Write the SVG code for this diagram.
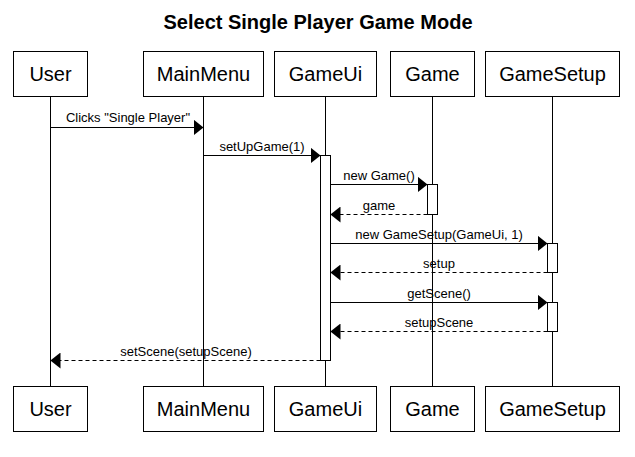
<svg xmlns="http://www.w3.org/2000/svg" width="635" height="457" viewBox="0 0 635 457">
<style>
  .box { fill: #fff; stroke: #000; stroke-width: 1; }
  .life { stroke: #000; stroke-width: 1; }
  .act { fill: #fff; stroke: #000; stroke-width: 1; }
  .msg { stroke: #000; stroke-width: 1; fill: none; marker-end: url(#arr); }
  .ret { stroke-dasharray: 4,3; }
  .name { font-family: "Liberation Sans", Arial, sans-serif; font-size: 20px; text-anchor: middle; fill: #000; }
  .lbl { font-family: "Liberation Sans", Arial, sans-serif; font-size: 13px; text-anchor: middle; fill: #000; }
  .title { font-family: "Liberation Sans", Arial, sans-serif; font-size: 20px; font-weight: bold; text-anchor: middle; fill: #000; }
</style>
<defs>
  <marker id="arr" markerUnits="userSpaceOnUse" viewBox="0 0 10 16" refX="10" refY="8" markerWidth="10" markerHeight="16" orient="auto">
    <path d="M0,0 L10,8 L0,16 Z" fill="#000"/>
  </marker>
</defs>
<rect width="635" height="457" fill="#fff"/>
<text class="title" x="318" y="29">Select Single Player Game Mode</text>

<g id="lifelines">
  <line class="life" x1="50.5" y1="96.5" x2="50.5" y2="386.5"/>
  <line class="life" x1="203.5" y1="96.5" x2="203.5" y2="386.5"/>
  <line class="life" x1="325.5" y1="96.5" x2="325.5" y2="386.5"/>
  <line class="life" x1="432.5" y1="96.5" x2="432.5" y2="386.5"/>
  <line class="life" x1="552.5" y1="96.5" x2="552.5" y2="386.5"/>
</g>

<g id="User">
  <rect class="box" x="13.5" y="51.5" width="74" height="45"/>
  <text class="name" x="50.5" y="81">User</text>
  <rect class="box" x="13.5" y="386.5" width="74" height="45"/>
  <text class="name" x="50.5" y="416">User</text>
</g>
<g id="MainMenu">
  <rect class="box" x="143.5" y="51.5" width="120" height="45"/>
  <text class="name" x="203.5" y="81">MainMenu</text>
  <rect class="box" x="143.5" y="386.5" width="120" height="45"/>
  <text class="name" x="203.5" y="416">MainMenu</text>
</g>
<g id="GameUi">
  <rect class="box" x="274.5" y="51.5" width="102" height="45"/>
  <text class="name" x="325.5" y="81">GameUi</text>
  <rect class="box" x="274.5" y="386.5" width="102" height="45"/>
  <text class="name" x="325.5" y="416">GameUi</text>
  <rect class="act" x="320.5" y="155.5" width="10" height="205"/>
</g>
<g id="Game">
  <rect class="box" x="390.5" y="51.5" width="84" height="45"/>
  <text class="name" x="432.5" y="81">Game</text>
  <rect class="box" x="390.5" y="386.5" width="84" height="45"/>
  <text class="name" x="432.5" y="416">Game</text>
  <rect class="act" x="427.5" y="184.5" width="10" height="30"/>
</g>
<g id="GameSetup">
  <rect class="box" x="485.5" y="51.5" width="134" height="45"/>
  <text class="name" x="552.5" y="81">GameSetup</text>
  <rect class="box" x="485.5" y="386.5" width="134" height="45"/>
  <text class="name" x="552.5" y="416">GameSetup</text>
  <rect class="act" x="547.5" y="243.5" width="10" height="29"/>
  <rect class="act" x="547.5" y="302.5" width="10" height="29"/>
</g>

<g id="connectors">
  <line class="msg" x1="50.5" y1="127.5" x2="203.5" y2="127.5"/>
  <text class="lbl" x="128" y="122">Clicks "Single Player"</text>

  <line class="msg" x1="203.5" y1="155.5" x2="320.5" y2="155.5"/>
  <text class="lbl" x="262" y="151">setUpGame(1)</text>

  <line class="msg" x1="330.5" y1="184.5" x2="427.5" y2="184.5"/>
  <text class="lbl" x="379" y="180">new Game()</text>

  <line class="msg ret" x1="427.5" y1="214.5" x2="330.5" y2="214.5"/>
  <text class="lbl" x="379" y="210">game</text>

  <line class="msg" x1="330.5" y1="243.5" x2="547.5" y2="243.5"/>
  <text class="lbl" x="439" y="239">new GameSetup(GameUi, 1)</text>

  <line class="msg ret" x1="547.5" y1="272.5" x2="330.5" y2="272.5"/>
  <text class="lbl" x="439" y="268">setup</text>

  <line class="msg" x1="330.5" y1="302.5" x2="547.5" y2="302.5"/>
  <text class="lbl" x="439" y="298">getScene()</text>

  <line class="msg ret" x1="547.5" y1="331.5" x2="330.5" y2="331.5"/>
  <text class="lbl" x="439" y="327">setupScene</text>

  <line class="msg ret" x1="320.5" y1="360.5" x2="50.5" y2="360.5"/>
  <text class="lbl" x="186" y="356">setScene(setupScene)</text>
</g>
</svg>
